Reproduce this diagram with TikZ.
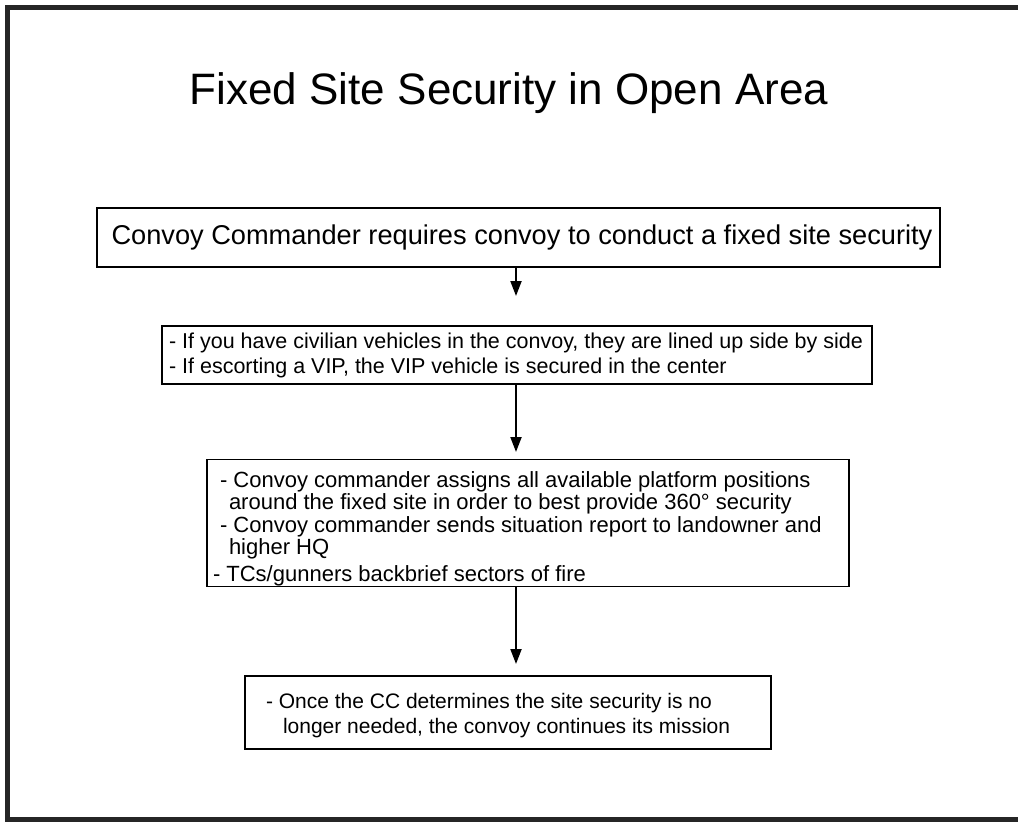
\documentclass[tikz,border=0pt]{standalone}
\usepackage{fontspec}
\setmainfont{Liberation Sans}
\usetikzlibrary{arrows.meta}
\newcommand{\natsp}{\spaceskip=0pt\xspaceskip=0pt\relax}
\begin{document}
\begin{tikzpicture}[x=1pt,y=-1pt,
  stepbox/.style={draw=black, line width=1.2pt, inner ysep=0pt, align=left, anchor=center},
  flow/.style={line width=2pt, -{Triangle[length=15pt,width=11pt]}},
  frameline/.style={draw=black!85, line width=5pt}]
\useasboundingbox (0,0) rectangle (1018,822);
% frame
\draw[frameline] (1018,7) -- (7.5,7) -- (7.5,819) -- (1018,819);
% title
\node[font=\fontsize{44}{50}\selectfont] (title) at (509,93) {Fixed Site Security in Open Area};
% boxes
\node[stepbox, font=\fontsize{27.2}{32}\selectfont, inner xsep=0pt, align=center,
      minimum width=843pt, minimum height=59pt] (b1) at (518.5,237.5)
  {\hspace*{7pt}Convoy Commander requires convoy to conduct a fixed site security};
\node[stepbox, font=\fontsize{21.5}{25}\selectfont, inner xsep=7pt, text width=696pt,
      minimum height=58pt] (b2) at (517,355)
  {\natsp - If you have civilian vehicles in the convoy, they are lined up side by side\\
   - If escorting a VIP, the VIP vehicle is secured in the center};
\node[stepbox, font=\fontsize{22}{22.3}\selectfont, inner xsep=6pt, text width=630pt,
      minimum height=124pt] (b3) at (528,523)
  {\natsp\rule{0pt}{28pt}\hspace*{7pt}- Convoy commander assigns all available platform positions\\
   \hspace*{16pt}around the fixed site in order to best provide 360° security\\
   \hspace*{7pt}- Convoy commander sends situation report to landowner and\\
   \hspace*{16pt}higher HQ\\[5pt]
   - TCs/gunners backbrief sectors of fire};
\node[stepbox, font=\fontsize{21}{24.5}\selectfont, inner xsep=21pt, text width=484pt,
      minimum height=73pt] (b4) at (508,712.5)
  {\natsp\rule{0pt}{21.5pt}- Once the CC determines the site security is no\\
   \hspace*{17pt}longer needed, the convoy continues its mission};
% arrow tips
\coordinate (t1) at (516,296);
\coordinate (t2) at (516,452);
\coordinate (t3) at (516,664);
\draw[flow] (t1 |- b1.south) -- (t1);
\draw[flow] (t2 |- b2.south) -- (t2);
\draw[flow] (t3 |- b3.south) -- (t3);
\end{tikzpicture}
\end{document}
